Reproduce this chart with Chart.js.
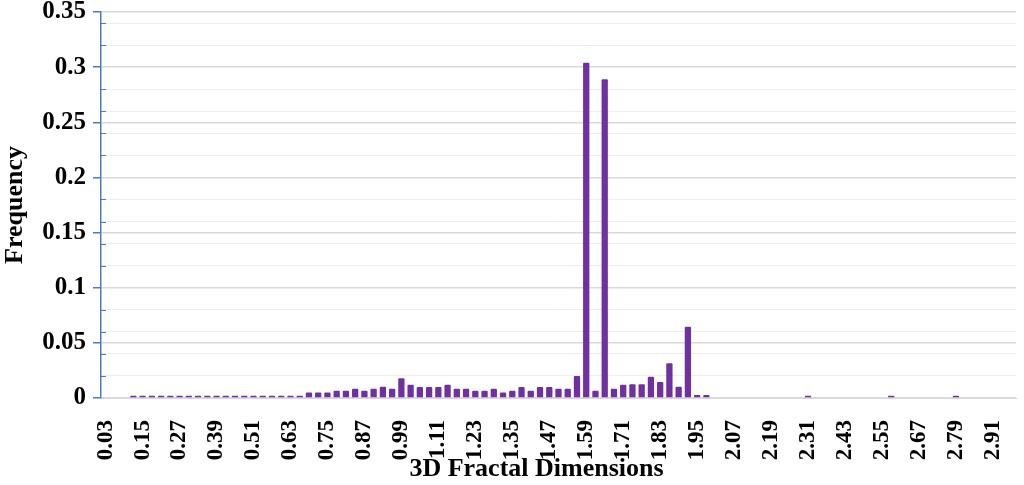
<!DOCTYPE html>
<html>
<head>
<meta charset="utf-8">
<script src="https://cdn.jsdelivr.net/npm/chart.js@4.4.0/dist/chart.umd.min.js"></script>
<style>
  html, body { margin: 0; padding: 0; background: #fff; }
  #wrap { width: 1024px; height: 485px; position: relative; }
</style>
</head>
<body>
<div id="wrap"><canvas id="chart"></canvas></div>
<script>
const dimensions = [
    '0.03', '0.06', '0.09', '0.12', '0.15', '0.18', '0.21', '0.24', '0.27', '0.30',
    '0.33', '0.36', '0.39', '0.42', '0.45', '0.48', '0.51', '0.54', '0.57', '0.60',
    '0.63', '0.66', '0.69', '0.72', '0.75', '0.78', '0.81', '0.84', '0.87', '0.90',
    '0.93', '0.96', '0.99', '1.02', '1.05', '1.08', '1.11', '1.14', '1.17', '1.20',
    '1.23', '1.26', '1.29', '1.32', '1.35', '1.38', '1.41', '1.44', '1.47', '1.50',
    '1.53', '1.56', '1.59', '1.62', '1.65', '1.68', '1.71', '1.74', '1.77', '1.80',
    '1.83', '1.86', '1.89', '1.92', '1.95', '1.98', '2.01', '2.04', '2.07', '2.10',
    '2.13', '2.16', '2.19', '2.22', '2.25', '2.28', '2.31', '2.34', '2.37', '2.40',
    '2.43', '2.46', '2.49', '2.52', '2.55', '2.58', '2.61', '2.64', '2.67', '2.70',
    '2.73', '2.76', '2.79', '2.82', '2.85', '2.88', '2.91', '2.94', '2.97'
];

const frequency = [
    0, 0, 0, 0.002, 0.002, 0.002, 0.002, 0.002, 0.002, 0.002,
    0.002, 0.002, 0.002, 0.002, 0.002, 0.002, 0.002, 0.002, 0.002, 0.002,
    0.002, 0.002, 0.005, 0.005, 0.005, 0.0066, 0.0066, 0.0085, 0.0066, 0.0085,
    0.0103, 0.0085, 0.018, 0.012, 0.010, 0.010, 0.010, 0.012, 0.0085, 0.0085,
    0.0066, 0.0066, 0.0085, 0.005, 0.0066, 0.010, 0.0066, 0.010, 0.010, 0.0085,
    0.0085, 0.020, 0.304, 0.0066, 0.289, 0.0085, 0.012, 0.0124, 0.0124, 0.0193,
    0.0145, 0.0314, 0.0103, 0.0647, 0.0027, 0.0027, 0, 0, 0, 0,
    0, 0, 0, 0, 0, 0, 0.002, 0, 0, 0,
    0, 0, 0, 0, 0, 0.002, 0, 0, 0, 0,
    0, 0, 0.002, 0, 0, 0, 0, 0, 0
];

const majorTicks = [0, 0.05, 0.1, 0.15, 0.2, 0.25, 0.3, 0.35];
const minorTicks = [0.02, 0.04, 0.06, 0.08, 0.12, 0.14, 0.16, 0.18, 0.22, 0.24, 0.26, 0.28, 0.32, 0.34];

const xTitle = '3D Fractal Dimensions';
const yTitle = 'Frequency';

const barColor = '#7030a0';
const axisBlue = '#4a7ebb';
const serif = '"Liberation Serif", "Times New Roman", serif';

function isMajor(v) {
    return majorTicks.some(m => Math.abs(m - v) < 1e-6);
}

// minor ticks point inward on the value axis, x title sits a bit left of centre
const axisExtras = {
    id: 'axisExtras',
    afterDraw(chart) {
        const { ctx, chartArea, scales } = chart;
        const y = scales.y;
        ctx.save();
        ctx.strokeStyle = axisBlue;
        ctx.lineWidth = 1;
        minorTicks.forEach(v => {
            const py = Math.round(y.getPixelForValue(v)) + 0.5;
            ctx.beginPath();
            ctx.moveTo(chartArea.left, py);
            ctx.lineTo(chartArea.left + 5, py);
            ctx.stroke();
        });
        ctx.font = 'bold 26px ' + serif;
        ctx.fillStyle = '#000';
        ctx.textAlign = 'center';
        ctx.textBaseline = 'alphabetic';
        ctx.fillText(xTitle, (chartArea.left + chartArea.right) / 2 - 22, 476);
        ctx.restore();
    }
};

const ctx = document.getElementById('chart').getContext('2d');

new Chart(ctx, {
    type: 'bar',
    data: {
        labels: dimensions,
        datasets: [{
            label: yTitle,
            data: frequency,
            backgroundColor: barColor,
            borderWidth: 0,
            borderRadius: 1,
            barPercentage: 0.68,
            categoryPercentage: 1.0
        }]
    },
    options: {
        responsive: true,
        maintainAspectRatio: false,
        animation: false,
        layout: {
            padding: { top: 12, right: 8, left: 0, bottom: 0 }
        },
        plugins: {
            legend: { display: false },
            tooltip: { enabled: false }
        },
        scales: {
            x: {
                grid: { display: false },
                border: { color: '#d9d9d9' },
                ticks: {
                    autoSkip: false,
                    maxRotation: 90,
                    minRotation: 90,
                    padding: 14,
                    color: '#000',
                    font: { family: serif, size: 23, weight: 'bold' },
                    callback: function(value, index) {
                        return index % 4 === 0 ? dimensions[index] : '';
                    }
                },
                afterFit: function(scale) {
                    scale.height = 87;
                    scale.paddingLeft = 0;
                    scale.paddingRight = 0;
                }
            },
            y: {
                min: 0,
                max: 0.35,
                afterBuildTicks: function(axis) {
                    const vals = majorTicks.concat(minorTicks.filter(v => !isMajor(v)));
                    vals.sort((a, b) => a - b);
                    axis.ticks = vals.map(v => ({ value: v }));
                },
                grid: {
                    color: c => isMajor(c.tick.value) ? '#d9d9d9' : '#ededed',
                    tickColor: c => isMajor(c.tick.value) ? axisBlue : 'rgba(0,0,0,0)',
                    tickLength: 8,
                    lineWidth: c => isMajor(c.tick.value) ? 1.5 : 1
                },
                border: { color: axisBlue, width: 1.5 },
                ticks: {
                    autoSkip: false,
                    padding: 7,
                    color: '#000',
                    font: { family: serif, size: 25, weight: 'bold' },
                    callback: function(value) {
                        return isMajor(value) ? String(Number(value.toFixed(2))) : '';
                    }
                },
                title: {
                    display: true,
                    text: yTitle,
                    color: '#000',
                    font: { family: serif, size: 26, weight: 'bold' },
                    padding: { top: 0, bottom: 2 }
                },
                afterFit: function(scale) {
                    scale.width = 101;
                    scale.paddingTop = 0;
                    scale.paddingBottom = 0;
                }
            }
        }
    },
    plugins: [axisExtras]
});
</script>
</body>
</html>
